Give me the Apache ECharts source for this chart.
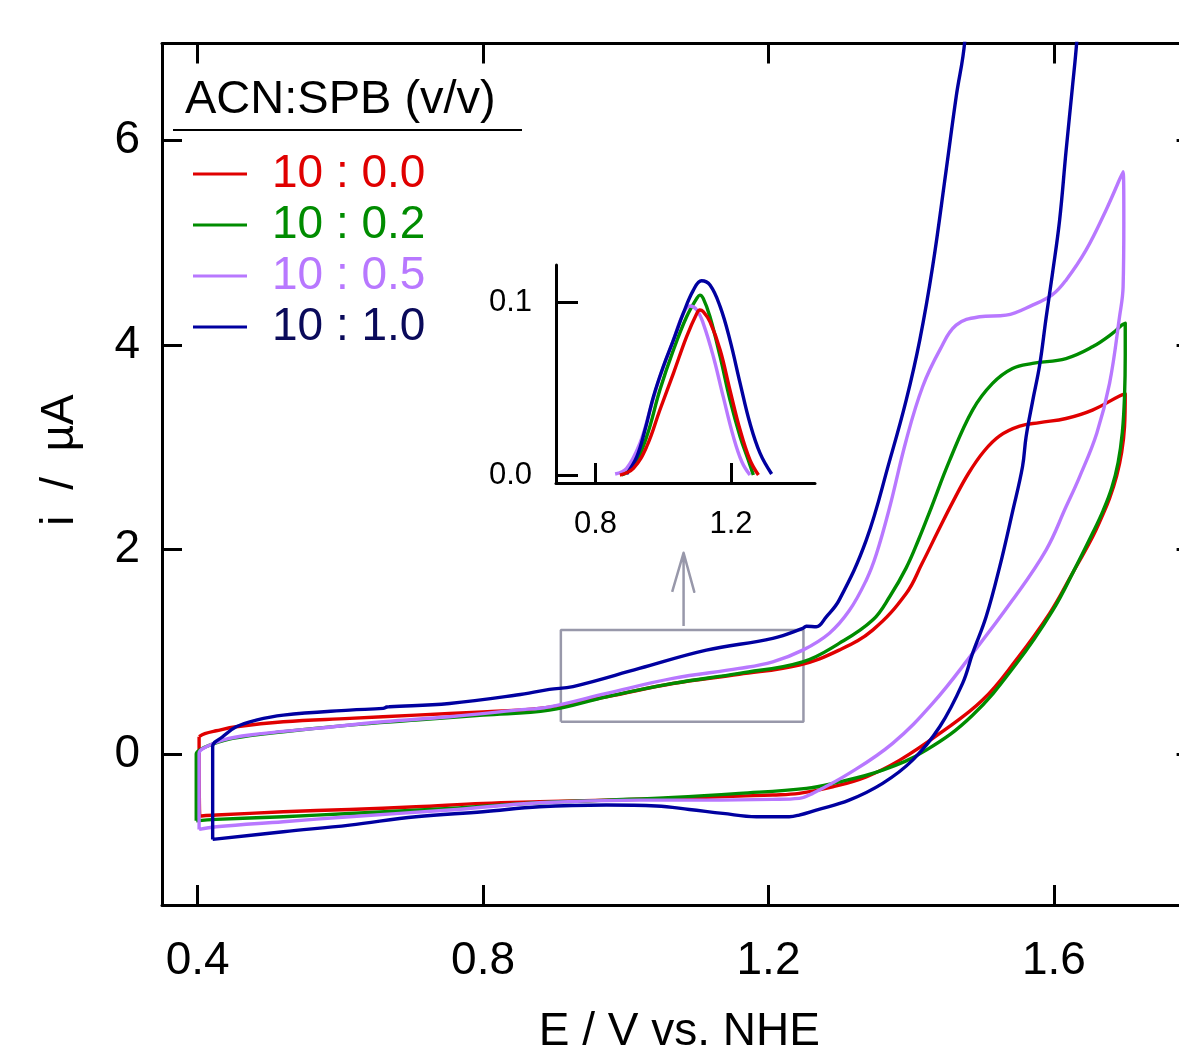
<!DOCTYPE html>
<html>
<head>
<meta charset="utf-8">
<script src="https://cdn.jsdelivr.net/npm/echarts@6/dist/echarts.min.js"></script>
<style>html,body{margin:0;padding:0;background:#fff;}#c{width:1179px;height:1046px;}</style>
</head>
<body>
<div id="c"></div>
<script>
// ---------- data ----------
var seriesNames = ['10 : 0.0', '10 : 0.2', '10 : 0.5', '10 : 1.0'];
var lineColors = ['#e00000', '#008c00', '#b878ff', '#0000a0'];
var textColors = ['#e00000', '#008c00', '#b878ff', '#0a0a5a'];
var xTicks = [0.4, 0.8, 1.2, 1.6];
var yTicks = [0, 2, 4, 6];
var insetXTicks = [0.8, 1.2];
var insetYTicks = [0, 0.1];

var redCV = [[0.402,0.17],[0.410,0.20],[0.426,0.228],[0.454,0.267],[0.520,0.316],[0.613,0.349],[0.706,0.381],[0.800,0.413],[0.879,0.445],[0.973,0.56],[1.066,0.69],[1.159,0.78],[1.243,0.87],[1.299,1.016],[1.346,1.212],[1.393,1.570],[1.415,1.86],[1.437,2.17],[1.458,2.46],[1.480,2.74],[1.502,2.96],[1.524,3.11],[1.552,3.205],[1.580,3.240],[1.617,3.280],[1.654,3.362],[1.692,3.50],[1.700,3.52],
  [1.699,3.20],[1.695,2.95],[1.688,2.72],[1.678,2.50],[1.666,2.30],[1.654,2.12],[1.626,1.766],[1.594,1.375],[1.547,0.919],[1.500,0.528],[1.440,0.202],[1.384,-0.059],[1.337,-0.222],[1.290,-0.320],[1.243,-0.384],[1.206,-0.40],[1.159,-0.41],[1.066,-0.433],[0.973,-0.45],[0.879,-0.466],[0.800,-0.482],[0.706,-0.515],[0.613,-0.541],[0.520,-0.564],[0.426,-0.596],[0.403,-0.606],[0.402,0.17]];

var greenCV = [[0.398,-0.652],[0.398,0.00],[0.403,0.04],[0.417,0.088],[0.449,0.153],[0.520,0.218],[0.613,0.283],[0.706,0.332],[0.800,0.381],[0.893,0.430],[0.973,0.56],[1.066,0.691],[1.159,0.789],[1.248,0.902],[1.299,1.082],[1.346,1.310],[1.370,1.54],[1.393,1.82],[1.410,2.09],[1.426,2.37],[1.454,2.873],[1.486,3.362],[1.514,3.623],[1.542,3.769],[1.570,3.818],[1.617,3.866],[1.654,3.980],[1.682,4.111],[1.695,4.192],[1.700,4.21],
  [1.700,3.90],[1.699,3.50],[1.696,3.15],[1.690,2.85],[1.681,2.60],[1.669,2.38],[1.655,2.17],[1.630,1.82],[1.598,1.40],[1.547,0.88],[1.486,0.38],[1.421,0.039],[1.360,-0.156],[1.290,-0.286],[1.253,-0.335],[1.159,-0.384],[1.066,-0.423],[0.973,-0.45],[0.879,-0.476],[0.753,-0.531],[0.613,-0.580],[0.520,-0.612],[0.426,-0.638],[0.398,-0.652]];

var purpleCV = [[0.402,-0.736],[0.402,0.007],[0.412,0.071],[0.435,0.137],[0.473,0.186],[0.566,0.251],[0.660,0.316],[0.753,0.365],[0.847,0.430],[0.893,0.462],[0.973,0.593],[1.066,0.740],[1.159,0.837],[1.206,0.902],[1.248,1.016],[1.285,1.179],[1.313,1.40],[1.337,1.70],[1.351,1.95],[1.370,2.417],[1.393,3.068],[1.416,3.590],[1.440,3.948],[1.463,4.192],[1.496,4.274],[1.533,4.290],[1.570,4.388],[1.598,4.49],[1.617,4.632],[1.645,4.925],[1.673,5.316],[1.697,5.691],
  [1.698,5.2],[1.697,4.567],[1.692,4.274],[1.678,3.623],[1.660,3.134],[1.636,2.710],[1.617,2.417],[1.589,1.994],[1.542,1.505],[1.486,0.984],[1.430,0.495],[1.374,0.105],[1.313,-0.189],[1.262,-0.384],[1.243,-0.433],[1.206,-0.443],[1.113,-0.45],[1.019,-0.45],[0.879,-0.476],[0.753,-0.547],[0.613,-0.612],[0.520,-0.661],[0.426,-0.710],[0.402,-0.736]];

var blueCV = [[0.421,-0.834],[0.421,0.071],[0.435,0.169],[0.454,0.267],[0.482,0.332],[0.520,0.381],[0.613,0.430],[0.660,0.447],[0.665,0.46],[0.669,0.462],[0.753,0.495],[0.847,0.577],[0.893,0.632],[0.926,0.66],[1.019,0.837],[1.113,1.016],[1.206,1.131],[1.248,1.228],[1.253,1.25],[1.267,1.244],[1.281,1.342],[1.299,1.505],[1.337,2.091],[1.370,2.873],[1.393,3.459],[1.412,4.046],[1.430,4.762],[1.449,5.707],[1.463,6.423],[1.475,6.961],[1.49,8.5],[1.70,20],
  [1.64,7.8],[1.632,6.961],[1.626,6.521],[1.617,5.890],[1.608,5.218],[1.598,4.697],[1.589,4.260],[1.580,3.800],[1.570,3.443],[1.561,3.100],[1.556,2.808],[1.542,2.368],[1.524,1.830],[1.505,1.342],[1.486,0.984],[1.472,0.691],[1.440,0.267],[1.402,-0.059],[1.360,-0.286],[1.313,-0.450],[1.267,-0.547],[1.243,-0.596],[1.229,-0.612],[1.183,-0.612],[1.136,-0.580],[1.089,-0.541],[1.043,-0.508],[0.973,-0.498],[0.879,-0.515],[0.800,-0.564],[0.706,-0.612],[0.613,-0.694],[0.520,-0.759],[0.421,-0.834]];

var redPeak = [[0.872,0],[0.912,0.0039],[0.951,0.0164],[0.990,0.0376],[1.030,0.0588],[1.069,0.08],[1.099,0.0934],[1.108,0.0954],[1.118,0.0944],[1.138,0.0886],[1.168,0.0723],[1.197,0.0491],[1.227,0.026],[1.256,0.0087],[1.281,0]];
var greenPeak = [[0.877,0],[0.912,0.0048],[0.951,0.0222],[0.990,0.0491],[1.030,0.0723],[1.069,0.0915],[1.099,0.1021],[1.108,0.104],[1.118,0.1021],[1.138,0.0915],[1.168,0.0684],[1.197,0.0434],[1.227,0.0222],[1.251,0.0087],[1.266,0]];
var purplePeak = [[0.858,0.0006],[0.892,0.0039],[0.931,0.0183],[0.961,0.0376],[0.990,0.0568],[1.030,0.078],[1.059,0.0934],[1.079,0.0977],[1.099,0.0954],[1.118,0.0877],[1.148,0.0684],[1.177,0.0453],[1.207,0.0222],[1.232,0.0077],[1.256,0]];
var bluePeak = [[0.892,0.0006],[0.922,0.0106],[0.946,0.026],[0.971,0.0453],[1.000,0.0626],[1.030,0.078],[1.059,0.0934],[1.089,0.1069],[1.113,0.1123],[1.138,0.1098],[1.168,0.0973],[1.197,0.078],[1.227,0.053],[1.256,0.0299],[1.286,0.0125],[1.320,0.0006]];

var zoomBox = [[0.909,0.316],[1.249,0.316],[1.249,1.212],[0.909,1.212],[0.909,0.316]];
var zoomArrow = [[1.065,1.586],[1.081,1.967],[1.096,1.586],[1.081,1.967],[1.081,1.251]];

// ---------- chart ----------
var FONT = '"Liberation Sans", Arial, sans-serif';
var chart = echarts.init(document.getElementById('c'), null, {renderer: 'canvas'});
var fmt1 = function (v) { return v.toFixed(1); };
var fmt0 = function (v) { return String(Math.round(v)); };

function mainLine(idx, data) {
  return {
    name: seriesNames[idx], type: 'line', xAxisIndex: 0, yAxisIndex: 0,
    data: data, showSymbol: false, symbol: 'none', smooth: 0.4, clip: true,
    lineStyle: {color: lineColors[idx], width: 3.4, join: 'round'}, itemStyle: {color: lineColors[idx]},
    z: 3
  };
}
function insetLine(idx, data) {
  return {
    name: seriesNames[idx], type: 'line', xAxisIndex: 2, yAxisIndex: 2,
    data: data, showSymbol: false, symbol: 'none', smooth: 0.4, clip: true,
    lineStyle: {color: lineColors[idx], width: 3.4}, itemStyle: {color: lineColors[idx]},
    z: 4
  };
}
var axisLineStyle = {color: '#000', width: 3};
var tickStyle = {color: '#000', width: 3};

var option = {
  animation: false,
  backgroundColor: '#fff',
  grid: [
    {left: 162, top: 43.5, width: 1034.6, height: 861.5, outerBoundsMode: 'none', containLabel: false},
    {left: 556, top: 265, width: 259, height: 218, outerBoundsMode: 'none', containLabel: false}
  ],
  xAxis: [
    {type: 'value', gridIndex: 0, position: 'bottom', min: 0.35, max: 1.8,
     axisLine: {show: true, onZero: false, lineStyle: axisLineStyle},
     axisTick: {show: true, inside: true, length: 20, lineStyle: tickStyle, customValues: xTicks},
     axisLabel: {show: true, customValues: xTicks, formatter: fmt1, fontSize: 46, color: '#000', fontFamily: FONT, margin: 33},
     splitLine: {show: false},
     name: 'E / V vs. NHE', nameLocation: 'middle', nameGap: 104,
     nameTextStyle: {fontSize: 46, color: '#000', fontFamily: FONT}},
    {type: 'value', gridIndex: 0, position: 'top', min: 0.35, max: 1.8,
     axisLine: {show: true, onZero: false, lineStyle: axisLineStyle},
     axisTick: {show: true, inside: true, length: 20, lineStyle: tickStyle, customValues: xTicks},
     axisLabel: {show: false}, splitLine: {show: false}},
    {type: 'value', gridIndex: 1, position: 'bottom', min: 0.6834, max: 1.448,
     axisLine: {show: true, onZero: false, lineStyle: axisLineStyle},
     axisTick: {show: true, inside: true, length: 20, lineStyle: tickStyle, customValues: insetXTicks},
     axisLabel: {show: true, customValues: insetXTicks, formatter: fmt1, fontSize: 31, color: '#000', fontFamily: FONT, margin: 26},
     splitLine: {show: false}}
  ],
  yAxis: [
    {type: 'value', gridIndex: 0, position: 'left', min: -1.475, max: 6.945,
     axisLine: {show: true, onZero: false, lineStyle: axisLineStyle},
     axisTick: {show: true, inside: true, length: 20, lineStyle: tickStyle, customValues: yTicks},
     axisLabel: {show: true, customValues: yTicks, formatter: fmt0, fontSize: 46, color: '#000', fontFamily: FONT, margin: 22},
     splitLine: {show: false}},
    {type: 'value', gridIndex: 0, position: 'right', min: -1.475, max: 6.945,
     axisLine: {show: true, onZero: false, lineStyle: axisLineStyle},
     axisTick: {show: true, inside: true, length: 20, lineStyle: tickStyle, customValues: yTicks},
     axisLabel: {show: false}, splitLine: {show: false}},
    {type: 'value', gridIndex: 1, position: 'left', min: -0.0046, max: 0.1214,
     axisLine: {show: true, onZero: false, lineStyle: axisLineStyle},
     axisTick: {show: true, inside: true, length: 22, lineStyle: tickStyle, customValues: insetYTicks},
     axisLabel: {show: true, customValues: insetYTicks, formatter: fmt1, fontSize: 31, color: '#000', fontFamily: FONT, margin: 24},
     splitLine: {show: false}}
  ],
  legend: {
    orient: 'vertical', left: 193, top: 151, padding: 0, itemGap: 5,
    itemWidth: 54, itemHeight: 3, icon: 'rect',
    data: seriesNames.map(function (n, i) {
      return {name: n, textStyle: {color: textColors[i]}};
    }),
    textStyle: {fontSize: 46, fontFamily: FONT, padding: [0, 0, 0, 20]}
  },
  graphic: [
    {type: 'text', left: 185, top: 77, style: {text: 'ACN:SPB (v/v)', font: '47px ' + FONT, fill: '#000'}},
    {type: 'line', shape: {x1: 173, y1: 130, x2: 522, y2: 130}, style: {stroke: '#000', lineWidth: 2}},
    {type: 'text', x: 60, y: 460, rotation: Math.PI / 2,
     style: {text: 'i  /  \u00b5A', font: '46px ' + FONT, fill: '#000', textAlign: 'center', textVerticalAlign: 'middle'}}
  ],
  series: [
    mainLine(0, redCV), mainLine(1, greenCV), mainLine(2, purpleCV), mainLine(3, blueCV),
    {type: 'line', xAxisIndex: 0, yAxisIndex: 0, data: zoomBox, showSymbol: false, symbol: 'none',
     lineStyle: {color: '#9898aa', width: 2.5}, z: 2, silent: true},
    {type: 'line', xAxisIndex: 0, yAxisIndex: 0, data: zoomArrow, showSymbol: false, symbol: 'none',
     lineStyle: {color: '#9898aa', width: 2.5, join: 'round'}, z: 2, silent: true},
    insetLine(1, greenPeak), insetLine(2, purplePeak), insetLine(3, bluePeak), insetLine(0, redPeak)
  ]
};
chart.setOption(option);
</script>
</body>
</html>
